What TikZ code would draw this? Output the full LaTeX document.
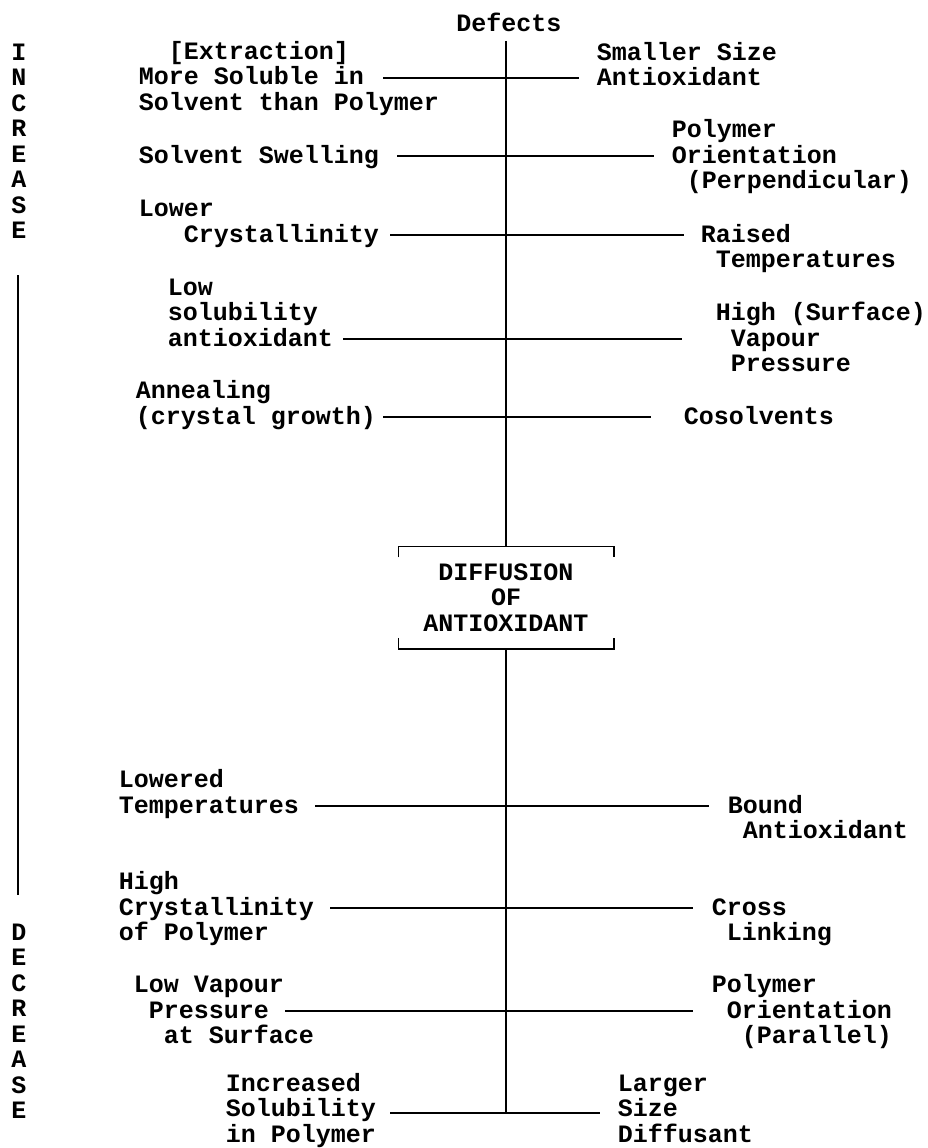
\documentclass[tikz,border=0pt]{standalone}
\usepackage{fontspec}
\setmainfont{Liberation Mono}
\usepackage{tikz}

\newlength\chw
\setlength\chw{15pt}
\newcommand{\ind}[1]{\hspace*{#1\chw}}

\begin{document}
\begin{tikzpicture}[x=1pt, y=-1pt, line width=1.5pt,
  txt/.style={inner sep=0pt, anchor=base west, align=left,
    font=\fontsize{25}{25.5}\selectfont\bfseries}]
\useasboundingbox (0,0) rectangle (927,1148);

% spine and box
\node (defects) [txt, anchor=base] at (509,32) {Defects};
\node (diff) [txt, anchor=center, align=center, minimum width=214pt, minimum height=101pt] at (506,597.5) {DIFFUSION\\OF\\ANTIOXIDANT};
\draw ([yshift=-11pt]diff.north west) -- (diff.north west) -- (diff.north east) -- ([yshift=-11pt]diff.north east);
\draw ([yshift=11pt]diff.south west) -- (diff.south west) -- (diff.south east) -- ([yshift=11pt]diff.south east);
\coordinate (foot) at (506,1113);
\draw [shorten <=8pt] (defects.south -| diff.north) -- (diff.north);
\draw (diff.south) -- (foot);

% cross lines
\foreach \n/\y/\a/\b in {1/78/383/579, 2/156/397/654, 3/235/390/684, 4/339/343/682, 5/417/383/651,
  6/806/315/709, 7/908/330/693, 8/1011/285/693, 9/1113/390/600} {
  \coordinate (a\n) at (\a,\y);
  \coordinate (b\n) at (\b,\y);
  \draw (a\n) -- (b\n);
}

% left side (base = last line)
\node (l1) [txt] at (138,110) {\ind{2}[Extraction]\\More Soluble in\\Solvent than Polymer};
\node (l2) [txt] at (138,163) {Solvent Swelling};
\node (l3) [txt] at (138,242) {Lower\\\ind{3}Crystallinity};
\node (l4) [txt] at (167,346) {Low\\solubility\\antioxidant};
\node (l5) [txt] at (135,424) {Annealing\\(crystal growth)};
\node (l6) [txt] at (118,813) {Lowered\\Temperatures};
\node (l7) [txt] at (118,940.5) {High\\Crystallinity\\of Polymer};
\node (l8) [txt] at (133,1043.5) {Low Vapour\\\ind{1}Pressure\\\ind{2}at Surface};
\node (l9) [txt] at (225,1142) {Increased\\Solubility\\in Polymer};

% right side
\node (r1) [txt] at (596,85.5) {Smaller Size\\Antioxidant};
\node (r2) [txt] at (671,188.5) {Polymer\\Orientation\\\ind{1}(Perpendicular)};
\node (r3) [txt] at (700,267.5) {Raised\\\ind{1}Temperatures};
\node (r4) [txt] at (715,371.5) {High (Surface)\\\ind{1}Vapour\\\ind{1}Pressure};
\node (r5) [txt] at (683,424) {Cosolvents};
\node (r6) [txt] at (727,838.5) {Bound\\\ind{1}Antioxidant};
\node (r7) [txt] at (711,940.5) {Cross\\\ind{1}Linking};
\node (r8) [txt] at (711,1043.5) {Polymer\\\ind{1}Orientation\\\ind{2}(Parallel)};
\node (r9) [txt] at (617,1142) {Larger\\Size\\Diffusant};

% increase / decrease scale
\node (inc) [txt, anchor=base, align=center] at (19,238.5) {I\\N\\C\\R\\E\\A\\S\\E};
\node (dec) [txt, anchor=base, align=center] at (19,1118.5) {D\\E\\C\\R\\E\\A\\S\\E};
\draw [shorten <=36pt, shorten >=28pt] (inc.south -| 18,0) -- (dec.north -| 18,0);
\end{tikzpicture}
\end{document}
